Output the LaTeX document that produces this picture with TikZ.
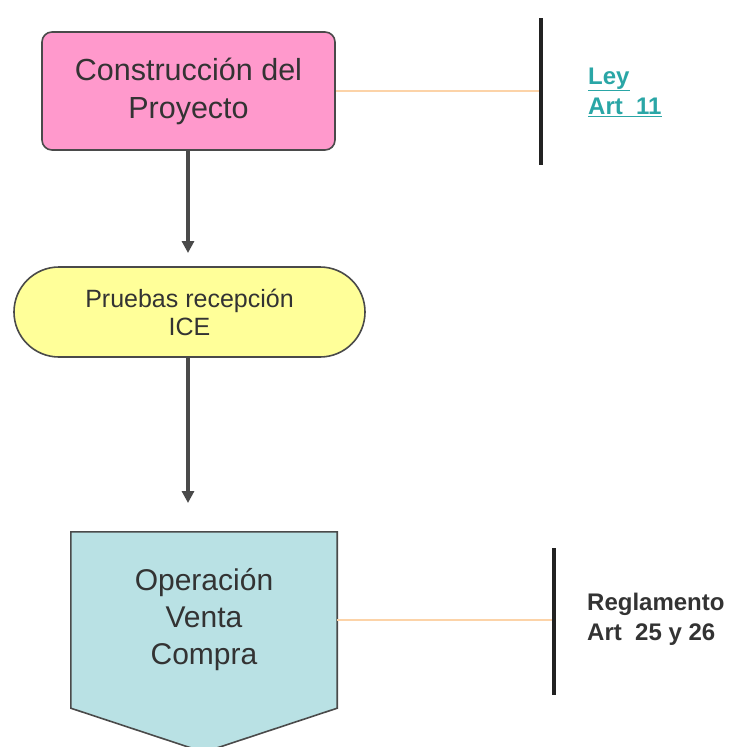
\documentclass[tikz,border=0pt]{standalone}
\usepackage{fontspec}
\setmainfont{Liberation Sans}
\usetikzlibrary{arrows.meta,shapes.misc,backgrounds}
\definecolor{pinkf}{HTML}{FF99CC}
\definecolor{yellf}{HTML}{FFFF99}
\definecolor{tealf}{HTML}{B9E1E4}
\definecolor{bord}{HTML}{4A4A4A}
\definecolor{txt}{HTML}{333333}
\definecolor{orangel}{HTML}{FCD3A8}
\definecolor{barc}{HTML}{222222}
\definecolor{teallink}{HTML}{2AA6A6}
\tikzset{
  box/.style={draw=bord, line width=1.6pt, text=txt, align=center, inner sep=0pt},
  pinkbox/.style={box, fill=pinkf, rounded corners=10pt, minimum width=293pt, minimum height=118pt,
    font=\fontsize{30.5}{38}\selectfont},
  stadium/.style={box, fill=yellf, rounded rectangle, minimum width=351pt, minimum height=90pt,
    font=\fontsize{25}{28}\selectfont},
  tealtext/.style={align=center, text=txt, inner sep=0pt, minimum width=266pt, minimum height=176pt,
    font=\fontsize{30}{37}\selectfont},
  flow/.style={draw=bord, line width=3.5pt, -{Triangle[length=12pt,width=12pt]}},
  link/.style={draw=orangel, line width=2pt},
  bar/.style={draw=barc, line width=4pt},
  legal/.style={anchor=west, align=left, inner sep=0pt, font=\bfseries\fontsize{24}{30}\selectfont},
}
\begin{document}
\begin{tikzpicture}[x=1pt,y=-1pt]
\useasboundingbox (0,0) rectangle (731,747);
\node[pinkbox] (cons) at (188.5,91) {Construcción del\\Proyecto};
\node[stadium] (prue) at (189.5,312) {Pruebas recepción\\ICE};
\node[tealtext] (oper) at (204,620) {Operación\\Venta\\Compra};
\begin{pgfonlayer}{background}
\draw[box, fill=tealf] (oper.north west) -- (oper.north east) -- (oper.south east)
  -- ([yshift=-44pt]oper.south) -- (oper.south west) -- cycle;
\end{pgfonlayer}
\coordinate (a1) at (188,253);
\coordinate (a2) at (188,503);
\draw[flow] (cons.south -| a1) -- (a1);
\draw[flow] (prue.south -| a2) -- (a2);
% bars
\coordinate (b1t) at (541,18);
\coordinate (b1b) at (541,165);
\coordinate (b2t) at (554,548);
\coordinate (b2b) at (554,695);
\draw[link] (cons.east) -- (cons.east -| b1t);
\draw[link] (oper.east) -- (oper.east -| b2t);
\draw[bar] (b1t) -- (b1b);
\draw[bar] (b2t) -- (b2b);
\node[legal, text=teallink] (ley) at (588,92) {\underline{Ley}\\\underline{Art~~11}};
\node[legal, text=txt] (regl) at (587,619) {Reglamento\\Art~~25 y 26};
\end{tikzpicture}
\end{document}
